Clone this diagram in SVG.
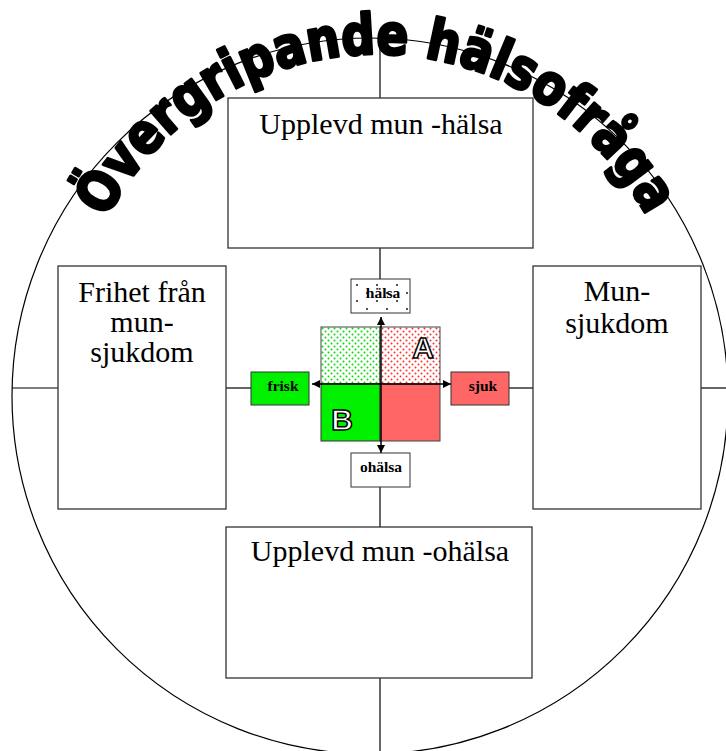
<svg xmlns="http://www.w3.org/2000/svg" width="726" height="751" viewBox="0 0 726 751">
<style>
.ln{stroke:#000;stroke-width:1.2;fill:none}
.box{fill:#fff;stroke:#333;stroke-width:1.3}
.lbl{font-family:"Liberation Serif","Times New Roman",serif;font-size:30px;fill:#000;text-anchor:middle}
.sm{font-family:"Liberation Serif","Times New Roman",serif;font-size:15.5px;font-weight:bold;fill:#000;text-anchor:middle}
.big{font-family:"Liberation Sans",Arial,sans-serif;font-size:30px;font-weight:900;fill:#fff;stroke:#000;stroke-width:1.5;text-anchor:middle}
.title{font-family:"DejaVu Sans","Liberation Sans",sans-serif;font-size:56px;font-weight:bold;fill:#000;stroke:#000;stroke-width:3;stroke-linejoin:round}
</style>
<defs>
<pattern id="pg" width="6" height="6" patternUnits="userSpaceOnUse"><rect width="6" height="6" fill="#fff"/><circle cx="1.5" cy="1.5" r="1" fill="#00e000"/><circle cx="4.5" cy="4.5" r="1" fill="#00e000"/></pattern>
<pattern id="pr" width="6" height="6" patternUnits="userSpaceOnUse"><rect width="6" height="6" fill="#fff"/><circle cx="1.5" cy="1.5" r="1" fill="#ff3030"/><circle cx="4.5" cy="4.5" r="1" fill="#ff3030"/></pattern>
<pattern id="pk" x="351" y="279" width="20" height="16" patternUnits="userSpaceOnUse"><rect width="20" height="16" fill="#fff"/><circle cx="6" cy="6" r="0.9" fill="#000"/><circle cx="16" cy="14" r="0.9" fill="#000"/></pattern>
<marker id="ah" viewBox="0 0 10 10" refX="10" refY="5" markerWidth="8" markerHeight="8" markerUnits="userSpaceOnUse" orient="auto-start-reverse"><path d="M0,0 L10,5 L0,10 z" fill="#000"/></marker>
<path id="arc" d="M72,359 A305,305 0 0 1 682,359"/>
</defs>
<g id="connectors">
<circle cx="370" cy="396" r="358" class="ln"/>
<line x1="380" y1="40" x2="380" y2="98" class="ln"/>
<line x1="380" y1="248" x2="380" y2="279" class="ln"/>
<line x1="380" y1="487" x2="380" y2="527" class="ln"/>
<line x1="380" y1="678" x2="380" y2="751" class="ln"/>
<line x1="12" y1="388" x2="58" y2="388" class="ln"/>
<line x1="226" y1="388" x2="251" y2="388" class="ln"/>
<line x1="509" y1="388" x2="533" y2="388" class="ln"/>
<line x1="701" y1="388" x2="726" y2="388" class="ln"/>
</g>
<g id="node-top"><rect x="228" y="98" width="305" height="150" class="box"/><text x="381" y="134" class="lbl">Upplevd mun -hälsa</text></g>
<g id="node-bottom"><rect x="226" y="527" width="306" height="151" class="box"/><text x="380" y="561" class="lbl">Upplevd mun -ohälsa</text></g>
<g id="node-left"><rect x="58" y="266" width="168" height="243" class="box"/><text class="lbl"><tspan x="142" y="302">Frihet från</tspan><tspan x="142" y="332">mun-</tspan><tspan x="142" y="362">sjukdom</tspan></text></g>
<g id="node-right"><rect x="533" y="266" width="168" height="243" class="box"/><text class="lbl"><tspan x="617" y="301">Mun-</tspan><tspan x="617" y="333">sjukdom</tspan></text></g>
<g id="quad-tl"><rect x="321" y="327" width="59" height="57" fill="url(#pg)" stroke="#444" stroke-width="1"/></g>
<g id="quad-tr"><rect x="380" y="327" width="60" height="57" fill="url(#pr)" stroke="#444" stroke-width="1"/><text x="423" y="358" class="big">A</text></g>
<g id="quad-bl"><rect x="321" y="384" width="59" height="57" fill="#00f000" stroke="#333" stroke-width="1"/><text x="342" y="430" class="big">B</text></g>
<g id="quad-br"><rect x="380" y="384" width="60" height="57" fill="#ff6666" stroke="#444" stroke-width="1"/></g>
<g id="axes">
<line x1="312" y1="384" x2="451" y2="384" stroke="#000" stroke-width="1.5" marker-start="url(#ah)" marker-end="url(#ah)"/>
<line x1="381" y1="317" x2="381" y2="453" stroke="#000" stroke-width="1.5" marker-start="url(#ah)" marker-end="url(#ah)"/>
</g>
<g id="node-halsa"><rect x="351" y="279" width="59" height="34" fill="url(#pk)" stroke="#333" stroke-width="1"/><text x="383" y="298" class="sm">hälsa</text></g>
<g id="node-ohalsa"><rect x="351" y="453" width="59" height="34" fill="#fff" stroke="#333" stroke-width="1"/><text x="381" y="472" class="sm">ohälsa</text></g>
<g id="node-frisk"><rect x="251" y="372" width="58" height="33" fill="#00f000" stroke="#333" stroke-width="1"/><text x="283" y="391" class="sm">frisk</text></g>
<g id="node-sjuk"><rect x="451" y="372" width="58" height="33" fill="#ff6666" stroke="#333" stroke-width="1"/><text x="483" y="391" class="sm">sjuk</text></g>
<g id="title"><text class="title"><textPath href="#arc" startOffset="146" textLength="663" lengthAdjust="spacingAndGlyphs">Övergripande hälsofråga</textPath></text></g>
</svg>
